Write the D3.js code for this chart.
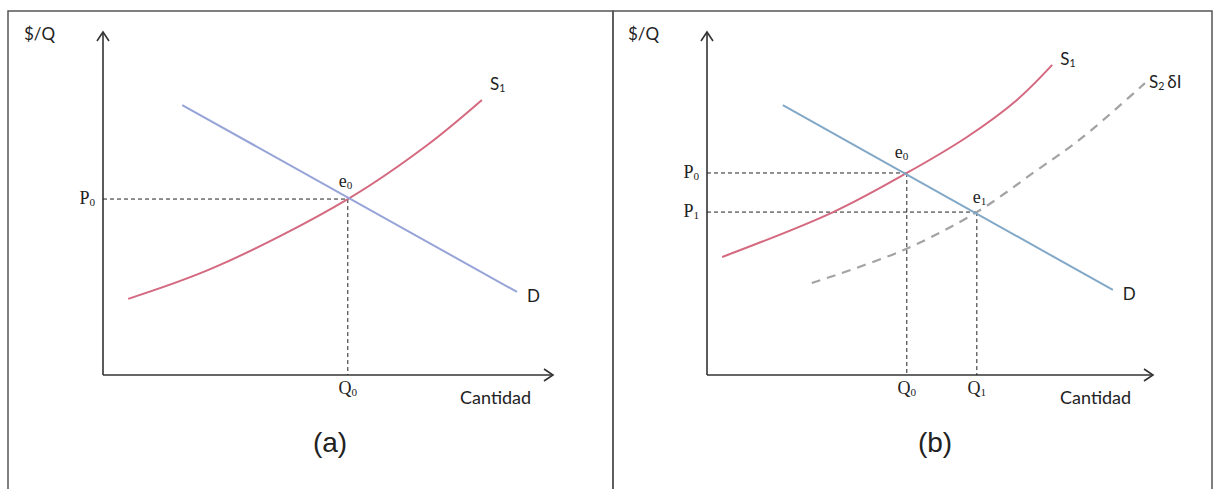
<!DOCTYPE html>
<html><head><meta charset="utf-8">
<script src="https://cdn.jsdelivr.net/npm/d3@7"></script>
<style>body{margin:0;background:#fff}svg{display:block}</style>
</head><body>
<svg id="c" width="1218" height="489"></svg>
<script>
// ---- data (quantity, price) in chart units 0..100 ----
const panelLabels = ["(a)", "(b)"];
const axisLabels = {y: "$/Q", x: "Cantidad"};
// panel (a)
const demandA = [[17.6, 78.7], [92.0, 24.2]];
const supplyA = [[5.6, 22.2], [25, 31.5], [54.4, 51.3], [72, 67], [84.2, 80.2]];
const eqA = [54.4, 51.3];
// panel (b)
const demandB = [[17.0, 78.7], [91.0, 24.8]];
const supplyB1 = [[3.4, 34.4], [28.3, 47.5], [44.8, 58.9], [58.3, 69.4], [69.5, 80.2], [77.4, 90.4]];
const supplyB2 = [[23.5, 26.8], [44, 36.4], [60.5, 47.5], [73.1, 58.9], [84.3, 69.4], [98.2, 85.1]];
const eqB0 = [44.8, 58.9];
const eqB1 = [60.5, 47.5];

const svg = d3.select("#c");
const sans = "Lato, 'Open Sans', sans-serif";
const serif = "'Liberation Serif', 'DejaVu Serif', serif";

// panel frames
svg.append("rect").attr("x", 8).attr("y", 11).attr("width", 605).attr("height", 490)
  .attr("fill", "none").attr("stroke", "#555").attr("stroke-width", 1.5);
svg.append("rect").attr("x", 613).attr("y", 11).attr("width", 599).attr("height", 490)
  .attr("fill", "none").attr("stroke", "#555").attr("stroke-width", 1.5);

function sub(g, x, y, base, idx, opts) {
  const t = g.append("text").attr("x", x).attr("y", y)
    .attr("font-family", opts.font).attr("font-size", opts.size).attr("fill", "#222")
    .attr("text-anchor", opts.anchor || "start");
  t.append("tspan").text(base);
  t.append("tspan").text(idx).attr("font-size", opts.size * 0.62).attr("dy", 2);
  if (opts.extra) t.append("tspan").text(opts.extra).attr("dy", -2).attr("dx", 3);
  return t;
}

function panel(cfg) {
  const g = svg.append("g");
  const x = d3.scaleLinear([0, 100], cfg.xr);
  const y = d3.scaleLinear([0, 100], [375, 32]);
  const line = d3.line().x(d => x(d[0])).y(d => y(d[1]));
  const curve = d3.line().x(d => x(d[0])).y(d => y(d[1])).curve(d3.curveCatmullRom.alpha(0.5));

  // axes
  g.append("line").attr("x1", x(0)).attr("y1", y(0)).attr("x2", x(0)).attr("y2", y(100))
    .attr("stroke", "#333").attr("stroke-width", 1.6);
  g.append("line").attr("x1", x(0)).attr("y1", y(0)).attr("x2", x(100)).attr("y2", y(0))
    .attr("stroke", "#333").attr("stroke-width", 1.6);
  g.append("path").attr("d", `M${x(0)-6},${y(100)+9}L${x(0)},${y(100)}L${x(0)+6},${y(100)+9}`)
    .attr("fill", "none").attr("stroke", "#333").attr("stroke-width", 1.6);
  g.append("path").attr("d", `M${x(100)-9},${y(0)-6}L${x(100)},${y(0)}L${x(100)-9},${y(0)+6}`)
    .attr("fill", "none").attr("stroke", "#333").attr("stroke-width", 1.6);

  g.append("text").attr("x", x(0) - 79).attr("y", 40).text(axisLabels.y)
    .attr("font-family", sans).attr("font-size", 17).attr("fill", "#222");
  g.append("text").attr("x", cfg.cantX).attr("y", 404).text(axisLabels.x)
    .attr("font-family", sans).attr("font-size", 18).attr("fill", "#222");
  g.append("text").attr("x", cfg.labelX).attr("y", 452).text(cfg.label)
    .attr("text-anchor", "middle").attr("font-family", "'Liberation Sans', Arial, sans-serif")
    .attr("font-size", 28).attr("fill", "#222");

  // guides
  cfg.eqs.forEach(e => {
    g.append("line").attr("x1", x(0)).attr("y1", y(e.p[1])).attr("x2", x(e.p[0])).attr("y2", y(e.p[1]))
      .attr("stroke", "#222").attr("stroke-width", 1).attr("stroke-dasharray", "4,3");
    g.append("line").attr("x1", x(e.p[0])).attr("y1", y(e.p[1])).attr("x2", x(e.p[0])).attr("y2", y(0))
      .attr("stroke", "#222").attr("stroke-width", 1).attr("stroke-dasharray", "4,3");
    sub(g, x(0) - 8, y(e.p[1]) + 5, "P", e.i, {font: serif, size: 18, anchor: "end"});
    sub(g, x(e.p[0]), 394, "Q", e.i, {font: serif, size: 18, anchor: "middle"});
    sub(g, x(e.p[0]) + e.ex, y(e.p[1]) + e.ey, "e", e.i, {font: serif, size: 18});
  });

  // curves
  if (cfg.s2) {
    g.append("path").attr("d", curve(cfg.s2)).attr("fill", "none").attr("stroke", "#a3a3a6")
      .attr("stroke-width", 2.2).attr("stroke-dasharray", "9,7");
  }
  g.append("path").attr("d", curve(cfg.s1)).attr("fill", "none").attr("stroke", "#d4697f").attr("stroke-width", 2);
  g.append("path").attr("d", line(cfg.d)).attr("fill", "none").attr("stroke", cfg.dColor).attr("stroke-width", 2);

  const s1e = cfg.s1[cfg.s1.length - 1];
  sub(g, x(s1e[0]) + 8, y(s1e[1]) + cfg.s1dy, "S", "1", {font: sans, size: 17});
  const de = cfg.d[1];
  g.append("text").attr("x", x(de[0]) + 10).attr("y", y(de[1]) + 10).text("D")
    .attr("font-family", sans).attr("font-size", 17).attr("fill", "#222");
  if (cfg.s2) {
    const s2e = cfg.s2[cfg.s2.length - 1];
    sub(g, x(s2e[0]) + 4, y(s2e[1]) + 5, "S", "2", {font: sans, size: 17, extra: "δI"});
  }
}

panel({xr: [103, 553], d: demandA, s1: supplyA, dColor: "#97a4d8", eqs: [{p: eqA, i: "0", ex: -9, ey: -12}],
  cantX: 460, labelX: 330, label: panelLabels[0], s1dy: -10});
panel({xr: [707, 1153], d: demandB, s1: supplyB1, s2: supplyB2, dColor: "#82a8c8",
  eqs: [{p: eqB0, i: "0", ex: -12, ey: -15}, {p: eqB1, i: "1", ex: -4, ey: -9}],
  cantX: 1060, labelX: 935, label: panelLabels[1], s1dy: 0});
</script>
</body></html>
